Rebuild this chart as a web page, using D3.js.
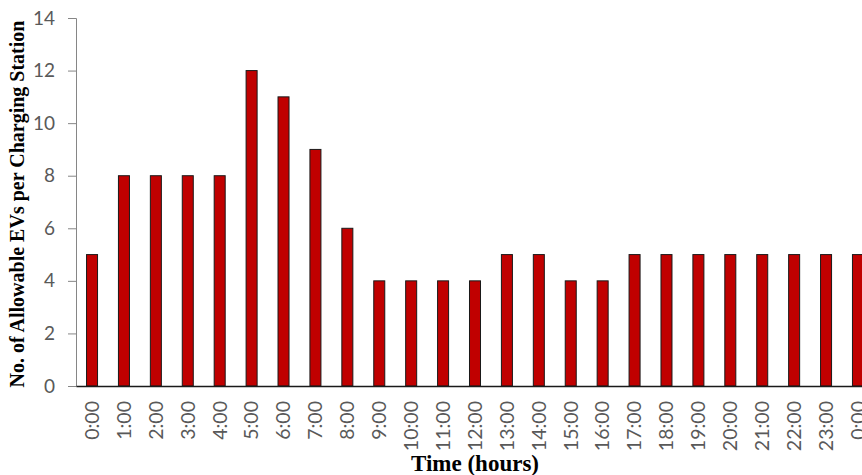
<!DOCTYPE html>
<html><head><meta charset="utf-8">
<script src="https://cdn.jsdelivr.net/npm/d3@7"></script>
<style>body{margin:0;background:#fff}svg{display:block}</style>
</head><body>
<svg id="c" width="862" height="475"></svg>
<script>
const categories = ["0:00","1:00","2:00","3:00","4:00","5:00","6:00","7:00","8:00","9:00","10:00","11:00","12:00","13:00","14:00","15:00","16:00","17:00","18:00","19:00","20:00","21:00","22:00","23:00","0:00 "];
const values = [5,8,8,8,8,12,11,9,6,4,4,4,4,5,5,4,4,5,5,5,5,5,5,5,5];
const yTicks = [0,2,4,6,8,10,12,14];

(function(){
const svg = d3.select("#c");
const mLeft = 76, mTop = 18, mBottom = 386, rightFull = 874;
const x = d3.scaleBand().domain(categories).range([mLeft, rightFull]).paddingInner(0.655).paddingOuter(0.33);
const y = d3.scaleLinear().domain([0,14]).range([mBottom, mTop]);

// bars
svg.append("g").selectAll("rect").data(values).join("rect")
  .attr("x",(d,i)=>x(categories[i]))
  .attr("width",x.bandwidth())
  .attr("y",d=>y(d))
  .attr("height",d=>y(0)-y(d))
  .attr("fill","#C00000")
  .attr("stroke","#1a1a1a")
  .attr("stroke-width",1);

// y axis
const ya = svg.append("g").attr("transform",`translate(${mLeft},0)`)
  .call(d3.axisLeft(y).tickValues(yTicks).tickSize(8).tickPadding(13));
ya.select(".domain").attr("stroke","#868686");
ya.selectAll(".tick line").attr("stroke","#868686");
ya.selectAll(".tick text").attr("fill","#595959").style("font-family","Lato, 'Open Sans', sans-serif").style("font-size","19px");

// x axis
const xa = svg.append("g").attr("transform",`translate(0,${mBottom})`)
  .call(d3.axisBottom(x).tickSize(0).tickPadding(14));
xa.select(".domain").attr("stroke","#1a1a1a").attr("stroke-width",1.5);
xa.selectAll(".tick text")
  .attr("fill","#595959").style("font-family","Lato, 'Open Sans', sans-serif").style("font-size","19.5px")
  .attr("transform","rotate(-90)")
  .attr("text-anchor","end")
  .attr("dy","0.35em")
  .attr("x",-15).attr("y",0);

// titles
svg.append("text").attr("transform","translate(24,204) rotate(-90)")
  .attr("text-anchor","middle")
  .style("font-family","'Liberation Serif','Times New Roman',serif").style("font-weight","bold").style("font-size","20px")
  .attr("fill","#000")
  .text("No. of Allowable EVs per Charging Station");
svg.append("text").attr("x",475).attr("y",471)
  .attr("text-anchor","middle")
  .style("font-family","'Liberation Serif','Times New Roman',serif").style("font-weight","bold").style("font-size","23px")
  .attr("fill","#000")
  .text("Time (hours)");
})();
</script>
</body></html>
